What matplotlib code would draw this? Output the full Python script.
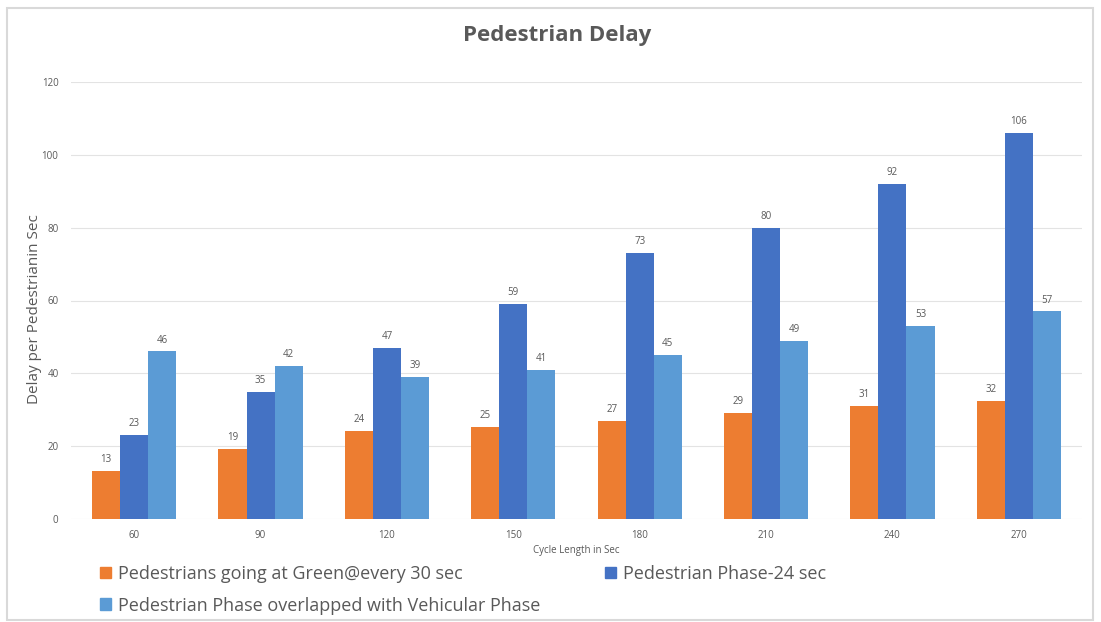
import matplotlib
matplotlib.use("Agg")
import matplotlib.pyplot as plt
import numpy as np
from matplotlib.patches import Rectangle, Patch

plt.rcParams['font.family'] = ['Open Sans', 'DejaVu Sans']

categories = ["60", "90", "120", "150", "180", "210", "240", "270"]
green_every_30 = [13.2, 19.2, 24.2, 25.3, 26.9, 29.1, 31.0, 32.4]
phase_24 = [23, 35, 47, 59, 73, 80, 92, 106]
overlapped = [46, 42, 39, 41, 45, 49, 53, 57]
series_names = ["Pedestrians going at Green@every 30 sec",
                "Pedestrian Phase-24 sec",
                "Pedestrian Phase overlapped with Vehicular Phase"]
colors = ["#ED7D31", "#4472C4", "#5B9BD5"]
yticks = [0, 20, 40, 60, 80, 100, 120]

fig = plt.figure(figsize=(11.01, 6.22), dpi=100)
fig.patches.append(Rectangle((7/1101, 2/622), 1086/1101, 612/622, transform=fig.transFigure,
                             fill=False, edgecolor="#D9D9D9", linewidth=1.5))
ax = fig.add_axes([71/1101, 103/622, 1011/1101, 437/622])

x = np.arange(len(categories))
w = 0.222
series = [green_every_30, phase_24, overlapped]
for i, (vals, c) in enumerate(zip(series, colors)):
    pos = x + (i - 1) * w
    ax.bar(pos, vals, width=w, color=c, zorder=3)
    for p, v in zip(pos, vals):
        ax.text(p, v + 1.6, f"{round(v):d}", ha="center", va="bottom",
                fontsize=7, color="#595959")

ax.set_xlim(-0.5, len(categories) - 0.5)
ax.set_ylim(0, 120)
ax.set_yticks(yticks)
ax.set_xticks(x)
ax.set_xticklabels(categories)
ax.tick_params(axis="both", length=0, labelsize=7, colors="#595959")
ax.tick_params(axis="y", pad=9)
ax.tick_params(axis="x", pad=8)
ax.grid(axis="y", color="#E3E3E3", linewidth=0.8, zorder=0)
for s in ax.spines.values():
    s.set_visible(False)

ax.set_xlabel("Cycle Length in Sec", fontsize=7, color="#595959", labelpad=3)
ax.set_ylabel("Delay per Pedestrianin Sec", fontsize=11, color="#595959", labelpad=0)
ax.yaxis.set_label_coords(-29/1011, 0.48)
fig.text(0.506, 1 - 36/622, "Pedestrian Delay", ha="center", va="center",
         fontsize=16, fontweight="bold", color="#595959")

handles = [Patch(color=colors[0]), Patch(color=colors[2]), Patch(color=colors[1])]
labels = [series_names[0], series_names[2], series_names[1]]
leg = fig.legend(handles, labels, loc="upper left", bbox_to_anchor=(100/1101, 1 - 565/622),
                 ncol=2, frameon=False, fontsize=13, handlelength=0.6, handleheight=0.6,
                 handletextpad=0.4, columnspacing=3.6, labelspacing=0.75, borderaxespad=0,
                 borderpad=0)
for t in leg.get_texts():
    t.set_color("#595959")

fig.savefig("out.png", dpi=100)
